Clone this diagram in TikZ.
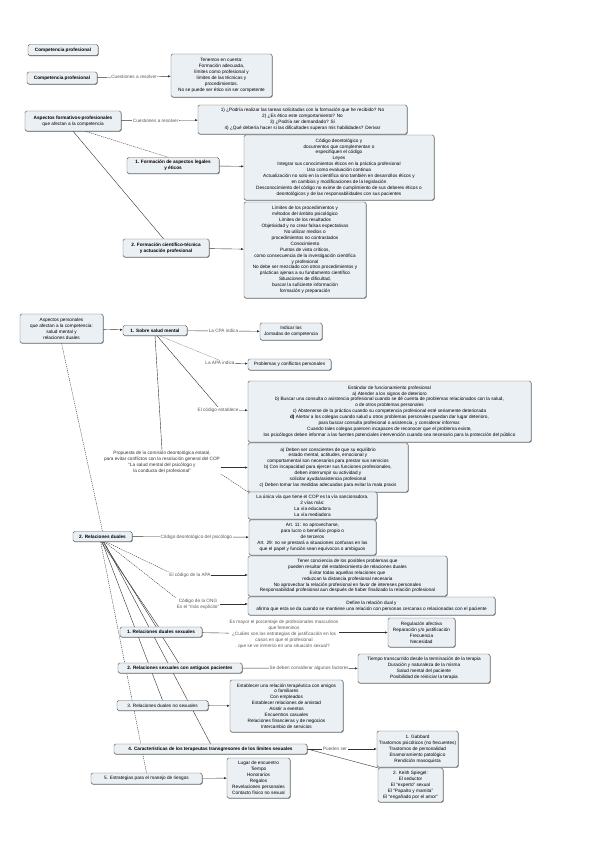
\documentclass[tikz,border=0pt]{standalone}
\usepackage{fontspec}
\setmainfont{Liberation Sans}
\usetikzlibrary{arrows.meta,shadows,backgrounds}
\definecolor{boxfill}{HTML}{EBF0F5}
\newcommand\fsz{\fontsize{4.7}{5.9}\selectfont}
\begin{document}
\begin{tikzpicture}[x=1pt,y=-1pt,
  box/.style={draw=black!65, line width=0.45pt, rounded corners=1.5pt, fill=boxfill,
    align=center, font=\fsz, inner sep=1pt,
    drop shadow={shadow xshift=0.5pt, shadow yshift=-0.6pt, fill=black!70, opacity=0.9}},
  lbl/.style={font=\fsz, text=black!65, fill=white, inner sep=0.6pt, align=center},
  con/.style={draw=black!80, line width=0.4pt},
  arr/.style={con, -{Latex[length=2.6pt,width=2.2pt]}},
  dsh/.style={con, dash pattern=on 1.2pt off 0.9pt},
  dot/.style={con, draw=black!55, dash pattern=on 0.6pt off 0.6pt}]

% ---------- nodes ----------
\node[box, minimum width=70pt, minimum height=11pt, font=\fsz\bfseries] (cp0) at (63,50) {Competencia profesional};
\node[box, minimum width=70pt, minimum height=12pt, font=\fsz\bfseries] (cp) at (62,78) {Competencia profesional};
\node[box, minimum width=101pt, minimum height=43pt] (tb) at (221.5,75.5) {Tenemos en cuenta:\\ Formación adecuada,\\ límites como profesional y\\ límites de las técnicas y\\ procedimientos.\\ No se puede ser ético sin ser competente};

\node[box, minimum width=96pt, minimum height=20pt] (afp) at (73,121) {{\bfseries Aspectos formativos-profesionales}\\ que afectan a la competencia};
\node[box, minimum width=209pt, minimum height=29pt] (q) at (302.5,119.5) {1) ¿Podría realizar las tareas solicitadas con la formación que he recibido? No\\ 2) ¿Es ético este comportamiento? No\\ 3) ¿Podría ser demandado? Sí\\ 4) ¿Qué debería hacer si las dificultades superan mis habilidades? Derivar};
\node[box, minimum width=92pt, minimum height=16pt, font=\fsz\bfseries] (f1) at (173,165.5) {1. Formación de aspectos legales\\ y éticos};
\node[box, minimum width=190pt, minimum height=65pt] (cod) at (339,167.5) {Código deontológico y\\ documentos que complementan o\\ especifiquen el código\\ Leyes\\ Integrar sus conocimientos éticos en la práctica profesional\\ Uso como evaluación continua\\ Actualización no solo en la científica sino también en desarrollos éticos y\\ en cambios y modificaciones de la legislación\\ Desconocimiento del código no exime de cumplimiento de sus deberes éticos o\\ deontológicos y de las responsabilidades con sus pacientes};
\node[box, minimum width=86pt, minimum height=18pt, font=\fsz\bfseries] (f2) at (166,248) {2. Formación científico-técnica\\ y actuación profesional};
\node[box, minimum width=122pt, minimum height=96pt] (lim) at (305,250) {Límites de los procedimientos y\\ métodos del ámbito psicológico\\ Límites de los resultados\\ Objetividad y no crear falsas expectativas\\ No utilizar medios o\\ procedimientos no contrastados\\ Conocimiento\\ Puntos de vista críticos,\\ como consecuencia de la investigación científica\\ y profesional\\ No debe ser mezclado con otros procedimientos y\\ prácticas ajenas a su fundamento científico\\ Situaciones de dificultad,\\ buscar la suficiente información\\ formación y preparación};

\node[box, minimum width=83pt, minimum height=29pt] (ap) at (61.5,328.5) {Aspectos personales\\ que afectan a la competencia:\\ salud mental y\\ relaciones duales};
\node[box, minimum width=64pt, minimum height=10pt, font=\fsz\bfseries] (sm) at (155,330.5) {1. Sobre salud mental};
\node[box, minimum width=62pt, minimum height=17pt] (ctpa) at (291,331.5) {Indicar las\\ Jornadas de competencia};
\node[lbl] (lapi) at (220,363) {La APA indica};
\node[box, minimum width=83pt, minimum height=11pt] (pc) at (289.5,364.5) {Problemas y conflictos personales};
\node[lbl] (lcod) at (218,410) {El código establece};
\node[box, minimum width=283pt, minimum height=61pt] (est) at (389.5,411.5) {Estándar de funcionamiento profesional\\ a) Atender a los signos de deterioro\\ b) Buscar una consulta o asistencia profesional cuando se dé cuenta de problemas relacionados con la salud,\\ o de otros problemas personales\\ c) Abstenerse de la práctica cuando su competencia profesional esté seriamente deteriorada\\ {\bfseries d)} Alertar a los colegas cuando salud u otros problemas personales puedan dar lugar deterioro,\\ para buscar consulta profesional o asistencia, y considerar informar.\\ Cuando tales colegas parecen incapaces de reconocer que el problema existe,\\ los psicólogos deben informar a las fuentes potenciales intervención cuando sea necesario para la protección del público};
\node[lbl, text=black!80] (prop) at (162,462) {Propuesta de la comisión deontológica estatal,\\ para evitar conflictos con la resolución general del COP\\ “La salud mental del psicólogo y\\ la conducta del profesional”};
\node[box, minimum width=160pt, minimum height=49pt] (bx) at (328,467.5) {a) Deben ser conscientes de que su equilibrio\\ estado mental, actitudes, emocional y\\ comportamental son necesarios para prestar sus servicios\\ b) Con incapacidad para ejercer sus funciones profesionales,\\ deben interrumpir su actividad y\\ solicitar ayuda/asistencia profesional\\ c) Deben tomar las medidas adecuadas para evitar la mala praxis};
\node[box, minimum width=129pt, minimum height=27pt] (sol) at (312.5,505.5) {La única vía que tiene el COP es la vía sancionadora.\\ 2 vías más:\\ La vía educadora\\ La vía mediadora};

\node[box, minimum width=59pt, minimum height=10pt, font=\fsz\bfseries] (rd) at (102.5,536.5) {2. Relaciones duales};
\node[box, minimum width=127pt, minimum height=35pt] (art) at (312.5,537.5) {Art. 11: no aprovecharse,\\ para lucro o beneficio propio o\\ de terceros\\ Art. 29: no se prestará a situaciones confusas en las\\ que el papel y función sean equívocos o ambiguos};
\node[lbl] (lapa) at (190,575) {El código de la APA};
\node[box, minimum width=199pt, minimum height=40pt] (apa) at (347.5,576) {Tener conciencia de los posibles problemas que\\ pueden resultar del establecimiento de relaciones duales\\ Evitar todas aquellas relaciones que\\ reduzcan la distancia profesional necesaria\\ No aprovechar la relación profesional en favor de intereses personales\\ Responsabilidad profesional aun después de haber finalizado la relación profesional};
\node[lbl] (lon) at (198,604) {Código de la ONG\\ Es el “más explícito”};
\node[box, minimum width=247pt, minimum height=18pt] (ong) at (371.5,606) {Define la relación dual y\\ afirma que esta se da cuando se mantiene una relación con personas cercanas o relacionadas con el paciente};
\node[box, minimum width=82pt, minimum height=10pt, font=\fsz\bfseries] (ds) at (161,632) {1. Relaciones duales sexuales};
\node[lbl] (les) at (284,634) {Es mayor el porcentaje de profesionales masculinos\\ que femeninos\\ ¿Cuáles son las estrategias de justificación en los\\ casos en que el profesional\\ que se ve inmerso en una situación sexual?};
\node[box, minimum width=67pt, minimum height=29pt] (reg) at (421.5,632.5) {Regulación afectiva\\ Reparación y/o justificación\\ Frecuencia\\ Necesidad};
\node[box, minimum width=124pt, minimum height=10pt, font=\fsz\bfseries] (ant) at (180,668) {2. Relaciones sexuales con antiguos pacientes};
\node[box, minimum width=132pt, minimum height=29pt] (fac) at (424,668.5) {Tiempo transcurrido desde la terminación de la terapia\\ Duración y naturaleza de la misma\\ Salud mental del paciente\\ Posibilidad de reiniciar la terapia};
\node[box, minimum width=91pt, minimum height=10pt] (ns) at (162.5,705.5) {3. Relaciones duales no sexuales};
\node[box, minimum width=113pt, minimum height=52pt] (nsb) at (286.5,706) {Establecer una relación terapéutica con amigos\\ o familiares\\ Con empleados\\ Establecer relaciones de amistad\\ Asistir a eventos\\ Encuentros casuales\\ Relaciones financieras y de negocios\\ Intercambio de servicios};
\node[box, minimum width=193pt, minimum height=10pt, font=\fsz\bfseries] (c4) at (210.5,749) {4. Características de los terapeutas transgresores de los límites sexuales};
\node[box, minimum width=81pt, minimum height=36pt] (gab) at (417.5,749) {1. Gabbard\\ Trastornos psicóticos (no frecuentes)\\ Trastornos de personalidad\\ Enamoramiento patológico\\ Rendición masoquista};
\node[box, minimum width=65pt, minimum height=34pt] (ks) at (410.5,785) {2. Keith Spiegel:\\ El seductor\\ El “experto” sexual\\ El “Papaíto y mamita”\\ El “engañado por el amor”};
\node[box, minimum width=111pt, minimum height=11pt] (e5) at (146.5,778.5) {5. Estrategias para el manejo de riesgos};
\node[box, minimum width=63pt, minimum height=40pt] (est5) at (258.5,778) {Lugar de encuentro\\ Tiempo\\ Honorarios\\ Regalos\\ Revelaciones personales\\ Contacto físico no sexual};

% ---------- connectors ----------
\begin{scope}[on background layer]
\fill[white] (0,0) rectangle (599,848);
\useasboundingbox (0,0) rectangle (599,848);
\draw[arr] (cp) -- node[lbl]{Cuestiones a resolver} (tb);
\draw[arr] (afp) -- node[lbl, pos=0.45]{Cuestiones a resolver} (q);
\draw[dsh] (afp.320) -- (f1.120);
\draw[con] (afp.south) -- (f2.105);
\draw[arr] (f1) -- (cod);
\draw[arr] (f2) -- (lim);

\draw[arr] (ap) -- (sm);
\draw[dsh] (ap.south) -- (rd.north);
\draw[arr] (sm) -- node[lbl, pos=0.5]{La CPA indica} (ctpa);
\draw[dot] (sm.310) -- (lapi.north);
\draw[arr] (lapi) -- (pc);
\draw[con] (sm.290) -- (lcod.north);
\draw[arr] (lcod) -- (est);
\draw[con] (sm.south) -- (prop.north);
\draw[arr] (prop.east |- bx.west) -- (bx.west);
\draw[dsh] (prop.south east) -- (sol.north west);

\draw[arr] (rd) -- node[lbl, pos=0.55]{Código deontológico del psicólogo} (art);
\draw[dsh] (rd.300) -- (lapa.north west);
\draw[arr] (lapa) -- (lapa -| apa.west);
\draw[dsh] (rd.290) -- (lon.north west);
\draw[arr] (lon) -- (lon -| ong.west);
\draw[con] (rd.255) -- (ds.115);
\draw[con] (ds) -- (les);
\draw[arr] (les.east |- reg.west) -- (reg.west);
\draw[con] (rd.275) -- (ant.105);
\draw[arr] (ant) -- node[lbl, pos=0.58]{Se deben considerar algunos factores} (fac);
\draw[con] (rd.265) -- (ns.north);
\draw[arr] (ns) -- (nsb);
\draw[con] (rd.285) -- (c4.north);
\draw[arr] (c4) -- node[lbl, pos=0.4]{Pueden ser} (gab);
\draw[con] (c4.east) -- (ks.north west);
\draw[dsh] (rd.250) -- (e5.north);
\draw[arr] (e5) -- (est5);
\end{scope}
\end{tikzpicture}
\end{document}
